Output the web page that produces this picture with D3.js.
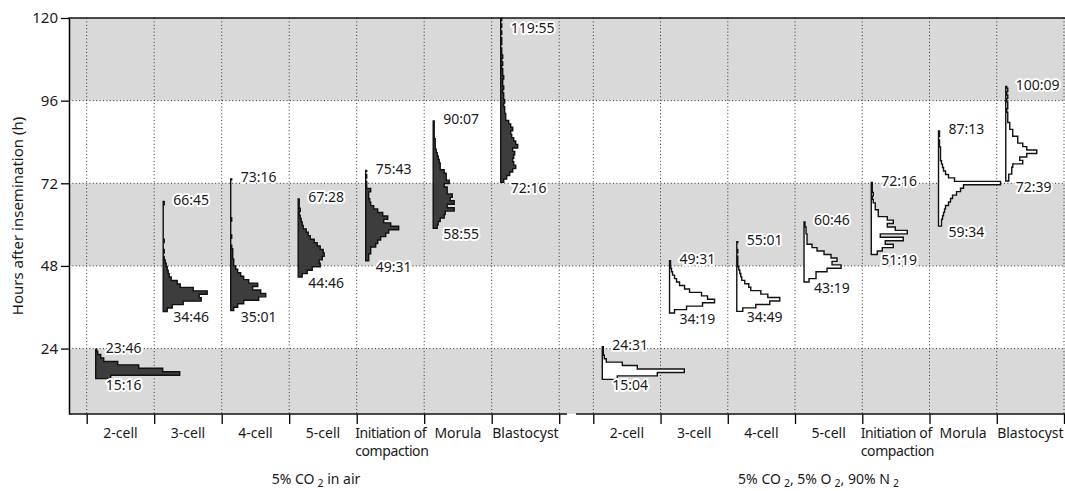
<!DOCTYPE html>
<html>
<head>
<meta charset="utf-8">
<script src="https://cdn.jsdelivr.net/npm/d3@7"></script>
<style>
  body { margin: 0; background: #fff; }
  svg { display: block; font-family: "Noto Sans", sans-serif; }
  .halo { paint-order: stroke; stroke: #fff; stroke-width: 4px; stroke-linejoin: round; }
</style>
</head>
<body>
<svg id="chart" width="1065" height="491"></svg>
<script>
// developmental stages, same order under both gas conditions
const stageLines = [["2-cell"], ["3-cell"], ["4-cell"], ["5-cell"],
                    ["Initiation of", "compaction"], ["Morula"], ["Blastocyst"]];
const yTicks = [24, 48, 72, 96, 120];
const binHours = 1;

// 5% CO2 in air : first / last observed time and counts per 1 h bin (from first)
const airFirst = ["15:16", "34:46", "35:01", "44:46", "49:31", "58:55", "72:16"];
const airLast  = ["23:46", "66:45", "73:16", "67:28", "75:43", "90:07", "119:55"];
const airCounts = [
  [15, 84, 67, 43, 22, 8, 5, 2, 1],
  [4, 9, 20, 38, 36, 44, 30, 17, 14, 8, 6, 5, 4, 3, 2, 1, 0, 1, 0, 0, 1, 0, 0, 0, 0, 0, 0, 0, 0, 0, 0, 1],
  [3, 7, 13, 28, 35, 30, 22, 27, 18, 13, 10, 7, 5, 3, 3, 2, 2, 2, 1, 0, 0, 1, 0, 0, 0, 0, 1, 0, 0, 0, 0, 0, 0, 0, 0, 0, 0, 0, 1],
  [4, 9, 14, 22, 21, 24, 26, 25, 22, 19, 16, 12, 10, 8, 5, 4, 3, 2, 1, 2, 1, 1, 1],
  [3, 3, 5, 5, 10, 12, 15, 20, 23, 33, 25, 18, 22, 17, 12, 8, 5, 4, 3, 3, 5, 1, 1, 0, 1, 0, 1],
  [4, 5, 7, 11, 12, 21, 14, 21, 17, 19, 14, 14, 11, 16, 13, 13, 11, 7, 7, 6, 5, 4, 3, 2, 2, 2, 1, 1, 1, 1, 1, 1],
  [3, 6, 9, 12, 15, 13, 12, 13, 14, 12, 17, 15, 13, 11, 10, 12, 10, 8, 5, 5, 4, 4, 3, 4, 3, 3, 2, 3, 2, 2,
   3, 2, 2, 1, 2, 1, 2, 1, 1, 0, 1, 1, 0, 1, 0, 1, 0, 1]
];

// 5% CO2, 5% O2, 90% N2
const lowO2First = ["15:04", "34:19", "34:49", "43:19", "51:19", "59:34", "72:39"];
const lowO2Last  = ["24:31", "49:31", "55:01", "60:46", "72:16", "87:13", "100:09"];
const lowO2Counts = [
  [15, 55, 82, 35, 20, 4, 2, 1, 1, 1],
  [5, 17, 33, 45, 38, 32, 20, 15, 10, 7, 5, 3, 2, 1, 1, 1],
  [6, 19, 33, 43, 31, 24, 14, 12, 8, 5, 4, 3, 2, 1, 1, 1, 0, 1, 0, 0, 1],
  [5, 12, 12, 23, 37, 28, 33, 27, 20, 13, 8, 3, 3, 3, 2, 2, 1, 1],
  [6, 11, 22, 14, 32, 9, 36, 24, 16, 22, 16, 7, 7, 4, 4, 2, 1, 2, 1, 1, 1],
  [3, 3, 4, 5, 6, 7, 10, 12, 14, 18, 22, 25, 62, 16, 10, 7, 5, 4, 3, 2, 2, 2, 2, 1, 1, 0, 1, 1],
  [3, 3, 6, 6, 7, 17, 14, 21, 31, 21, 17, 12, 12, 7, 7, 4, 4, 2, 2, 2, 1, 2, 2, 1, 2, 1, 2, 1]
];

const svg = d3.select('#chart');
const plot = { left: 69, right: 1065, top: 18, bottom: 414 };

const y = d3.scaleLinear().domain([5, 120]).range([plot.bottom, plot.top]);
const countScale = d3.scaleLinear().domain([0, 90]).range([0, 90]);

const panels = [
  { first: airFirst, last: airLast, counts: airCounts, fill: '#3d3d3d',
    x: d3.scaleLinear().domain([0, 7]).range([86.7, 559.2]), span: [69, 567],
    title: [['5% CO', false], ['2', true], [' in air', false]] },
  { first: lowO2First, last: lowO2Last, counts: lowO2Counts, fill: '#fff',
    x: d3.scaleLinear().domain([0, 7]).range([593.3, 1064]), span: [576, 1065],
    title: [['5% CO', false], ['2', true], [', 5% O', false], ['2', true], [', 90% N', false], ['2', true]] }
];

const toHours = s => { const [h, m] = s.split(':').map(Number); return h + m / 60; };

// shaded 24 h bands
svg.append('g').selectAll('rect')
  .data([[5, 24], [48, 72], [96, 120]])
  .join('rect')
    .attr('x', plot.left)
    .attr('width', plot.right - plot.left)
    .attr('y', d => y(d[1]))
    .attr('height', d => y(d[0]) - y(d[1]))
    .attr('fill', '#d9d9d9');

// dotted grid
const grid = svg.append('g')
  .attr('stroke', '#333')
  .attr('stroke-width', 1)
  .attr('stroke-dasharray', '1,2.4');

grid.selectAll('.h')
  .data(yTicks.filter(t => t < 120))
  .join('line')
    .attr('class', 'h')
    .attr('x1', plot.left).attr('x2', plot.right)
    .attr('y1', d => y(d)).attr('y2', d => y(d));

panels.forEach(p => {
  grid.append('g').selectAll('line')
    .data(d3.range(8))
    .join('line')
      .attr('x1', d => p.x(d)).attr('x2', d => p.x(d))
      .attr('y1', plot.top).attr('y2', plot.bottom);
});

// histograms
const labels = svg.append('g');
panels.forEach(p => {
  const g = svg.append('g');
  stageLines.forEach((_, i) => {
    const t0 = toHours(p.first[i]);
    const t1 = toHours(p.last[i]);
    const base = p.x(i) + 9;
    const pts = p.counts[i].map((c, k) => ({ t: t0 + k * binHours, c }));
    pts.push({ t: t1, c: p.counts[i][p.counts[i].length - 1] });

    const area = d3.area()
      .curve(d3.curveStepBefore)
      .y(d => y(d.t))
      .x0(base)
      .x1(d => base + countScale(d.c));

    g.append('path')
      .attr('d', area(pts))
      .attr('fill', p.fill)
      .attr('stroke', '#111')
      .attr('stroke-width', 1.4);

    labels.append('text')
      .attr('class', 'halo')
      .attr('x', base + 10)
      .attr('y', Math.max(y(t1) - 1.5, 28.5))
      .attr('dy', '0.35em')
      .attr('font-size', 14)
      .attr('fill', '#1a1a1a')
      .text(p.last[i]);

    labels.append('text')
      .attr('class', 'halo')
      .attr('x', base + 10)
      .attr('y', y(t0) + 6)
      .attr('dy', '0.35em')
      .attr('font-size', 14)
      .attr('fill', '#1a1a1a')
      .text(p.first[i]);
  });
});
labels.raise();

// axes
const yAxis = svg.append('g')
  .attr('transform', `translate(${plot.left},0)`)
  .call(d3.axisLeft(y).tickValues(yTicks).tickSize(8).tickSizeOuter(0).tickPadding(3));
yAxis.select('.domain').attr('stroke-width', 1.5);
yAxis.selectAll('.tick line').attr('stroke-width', 1.3);
yAxis.selectAll('.tick text').attr('font-size', 15).attr('font-family', '"Noto Sans", sans-serif').attr('fill', '#1a1a1a');

svg.append('line')
  .attr('x1', plot.left - 0.75).attr('x2', plot.right)
  .attr('y1', plot.top).attr('y2', plot.top)
  .attr('stroke', '#111').attr('stroke-width', 1.5);

panels.forEach(p => {
  const ax = svg.append('g')
    .attr('transform', `translate(0,${plot.bottom})`)
    .call(d3.axisBottom(p.x).tickValues(d3.range(8)).tickFormat('').tickSize(10).tickSizeOuter(0));
  ax.select('.domain').remove();
  ax.selectAll('.tick line').attr('stroke-width', 1.3);

  svg.append('line')
    .attr('x1', p.span[0]).attr('x2', p.span[1])
    .attr('y1', plot.bottom).attr('y2', plot.bottom)
    .attr('stroke', '#111').attr('stroke-width', 1.5);

  stageLines.forEach((lines, i) => {
    const t = svg.append('text')
      .attr('font-size', 14)
      .attr('fill', '#1a1a1a');
    if (lines.length > 1) {
      // two-line label, left aligned on the category boundary, a bit tighter
      t.attr('text-anchor', 'start').attr('letter-spacing', -0.4);
      lines.forEach((s, k) => t.append('tspan')
        .attr('x', p.x(i) - 1.5).attr('y', 438 + k * 18).text(s));
    } else {
      t.attr('text-anchor', 'middle')
        .attr('x', p.x(i + 0.5)).attr('y', 438)
        .text(lines[0]);
    }
  });

  const title = svg.append('text')
    .attr('x', (p.span[0] + p.span[1]) / 2 - 2)
    .attr('y', 484)
    .attr('text-anchor', 'middle')
    .attr('font-size', 14)
    .attr('fill', '#1a1a1a');
  let shift = 0;
  p.title.forEach(([s, sub]) => {
    const ts = title.append('tspan').text(s);
    if (sub) {
      ts.attr('font-size', 10.5).attr('dx', 3).attr('dy', 2.5 - shift);
      shift = 2.5;
    } else if (shift) {
      ts.attr('dy', -shift);
      shift = 0;
    }
  });
});

svg.append('text')
  .attr('transform', `translate(23,${(plot.top + plot.bottom) / 2}) rotate(-90)`)
  .attr('text-anchor', 'middle')
  .attr('font-size', 15)
  .attr('fill', '#1a1a1a')
  .text('Hours after insemination (h)');
</script>
</body>
</html>
